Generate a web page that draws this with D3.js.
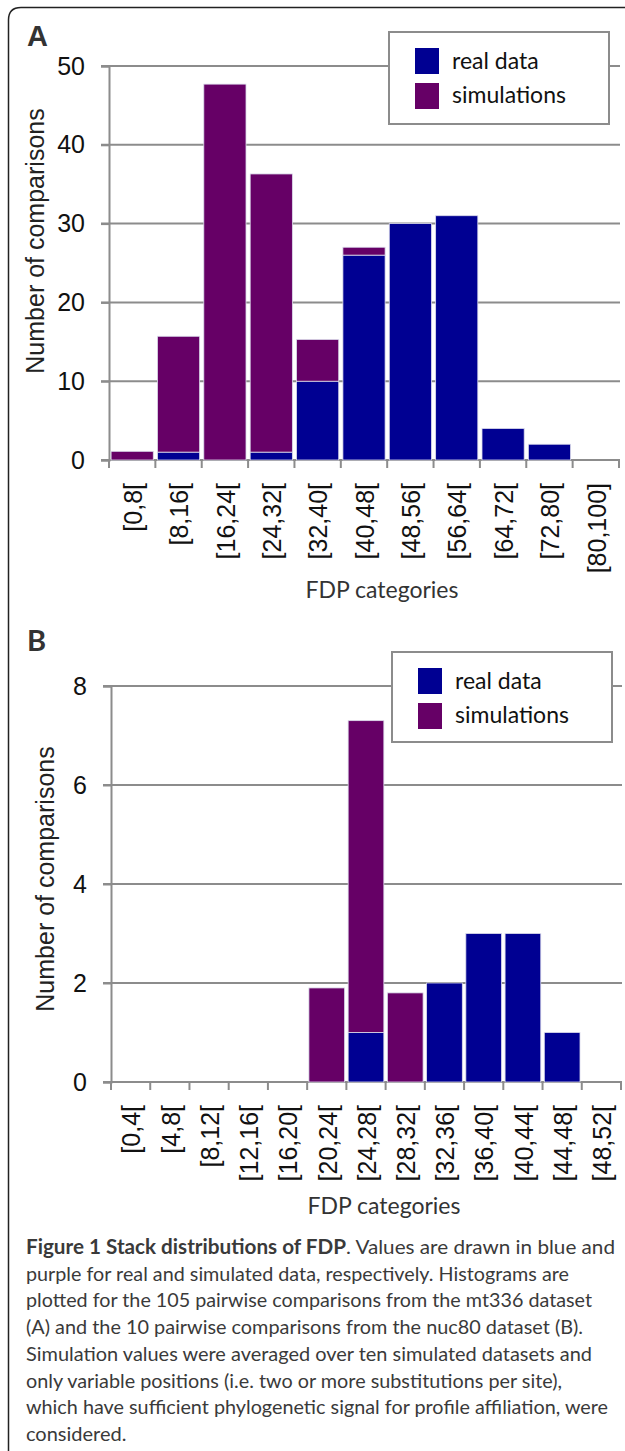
<!DOCTYPE html>
<html>
<head>
<meta charset="utf-8">
<script src="https://cdn.jsdelivr.net/npm/d3@7"></script>
<style>
  html, body { margin: 0; padding: 0; background: #fff; }
  svg { display: block; }
</style>
</head>
<body>
<svg id="chart"></svg>
<script>
// FDP histogram bins and counts
const catsA = ['[0,8[', '[8,16[', '[16,24[', '[24,32[', '[32,40[', '[40,48[', '[48,56[', '[56,64[', '[64,72[', '[72,80[', '[80,100]'];
const realA = [0, 1, 0, 1, 10, 26, 30, 31, 4, 2, 0];
const simA = [1.1, 14.7, 47.7, 35.3, 5.3, 1, 0, 0, 0, 0, 0];
const ticksA = [0, 10, 20, 30, 40, 50];

const catsB = ['[0,4[', '[4,8[', '[8,12[', '[12,16[', '[16,20[', '[20,24[', '[24,28[', '[28,32[', '[32,36[', '[36,40[', '[40,44[', '[44,48[', '[48,52['];
const realB = [0, 0, 0, 0, 0, 0, 1, 0, 2, 3, 3, 1, 0];
const simB = [0, 0, 0, 0, 0, 1.9, 6.3, 1.8, 0, 0, 0, 0, 0];
const ticksB = [0, 2, 4, 6, 8];

const seriesNames = ['real data', 'simulations'];
const captionLines = [
  'purple for real and simulated data, respectively. Histograms are',
  'plotted for the 105 pairwise comparisons from the mt336 dataset',
  '(A) and the 10 pairwise comparisons from the nuc80 dataset (B).',
  'Simulation values were averaged over ten simulated datasets and',
  'only variable positions (i.e. two or more substitutions per site),',
  'which have sufficient phylogenetic signal for profile affiliation, were',
  'considered.'
];
const captionWidths = [543, 566, 557, 566, 536, 582, 0];

const W = 625;
const H = 1451;
const BLUE = '#000092';
const PURPLE = '#660066';
const GRID = '#8c8c8c';
const ARIAL = '"Liberation Sans", Arial, sans-serif';
const SOFT = 'Lato, "Open Sans", sans-serif';

const svg = d3.select('#chart')
  .attr('width', W)
  .attr('height', H)
  .attr('viewBox', `0 0 ${W} ${H}`);

// frame with rounded top-left corner
svg.append('path')
  .attr('d', `M8.5,${H} L8.5,20 Q8.5,7.5 21,7.5 L${W},7.5`)
  .attr('fill', 'none')
  .attr('stroke', '#222')
  .attr('stroke-width', 1.5);

drawPanel({
  letter: 'A', letterY: 46, letterFont: ARIAL,
  cats: catsA, real: realA, sim: simA, ticks: ticksA,
  left: 109, right: 619, top: 66, bottom: 460, yMax: 50,
  titleX: 35, titleY: 241, catTitleY: 598,
  legend: { x: 389, y: 32, w: 220, h: 92 }
});

drawPanel({
  letter: 'B', letterY: 651, letterFont: SOFT,
  cats: catsB, real: realB, sim: simB, ticks: ticksB,
  left: 111, right: 621, top: 686, bottom: 1082, yMax: 8,
  titleX: 45, titleY: 879, catTitleY: 1214,
  legend: { x: 392, y: 652, w: 220, h: 90 }
});

drawCaption(1254);

function drawPanel(cfg) {
  const g = svg.append('g');
  const rows = cfg.cats.map((c, i) => ({ cat: c, real: cfg.real[i], sim: cfg.sim[i] }));
  const stacked = d3.stack().keys(['real', 'sim'])(rows);

  const x = d3.scaleBand()
    .domain(cfg.cats)
    .range([cfg.left, cfg.right])
    .paddingInner(0.09)
    .paddingOuter(0.045);
  const edges = d3.scaleLinear().domain([0, cfg.cats.length]).range([cfg.left, cfg.right]);
  const y = d3.scaleLinear().domain([0, cfg.yMax]).range([cfg.bottom, cfg.top]);

  g.append('text')
    .attr('x', 27)
    .attr('y', cfg.letterY)
    .attr('fill', '#333')
    .attr('font-family', cfg.letterFont)
    .attr('font-weight', 700)
    .attr('font-size', 29)
    .text(cfg.letter);

  // gridlines (start at the tick stubs left of the axis)
  g.append('g')
    .selectAll('line')
    .data(cfg.ticks)
    .join('line')
    .attr('x1', cfg.left - 8)
    .attr('x2', cfg.right + 1)
    .attr('y1', (d) => y(d))
    .attr('y2', (d) => y(d))
    .attr('stroke', GRID)
    .attr('stroke-width', 2);

  // y axis
  const yAxis = g.append('g')
    .attr('transform', `translate(${cfg.left},0)`)
    .call(d3.axisLeft(y).tickValues(cfg.ticks).tickSize(8).tickPadding(16));
  yAxis.select('.domain').attr('stroke', GRID).attr('stroke-width', 2);
  yAxis.selectAll('.tick line').attr('stroke', GRID).attr('stroke-width', 2);
  yAxis.selectAll('.tick text')
    .attr('fill', '#111')
    .attr('font-family', ARIAL)
    .attr('font-size', 25);

  // x tick stubs at bin edges
  g.append('g')
    .selectAll('line')
    .data(d3.range(cfg.cats.length + 1))
    .join('line')
    .attr('x1', (d) => edges(d))
    .attr('x2', (d) => edges(d))
    .attr('y1', cfg.bottom)
    .attr('y2', cfg.bottom + 8)
    .attr('stroke', GRID)
    .attr('stroke-width', 2);

  // stacked bars
  g.append('g')
    .selectAll('g')
    .data(stacked)
    .join('g')
    .attr('fill', (s) => (s.key === 'real' ? BLUE : PURPLE))
    .selectAll('rect')
    .data((s) => s.filter((d) => d[1] > d[0]))
    .join('rect')
    .attr('x', (d) => x(d.data.cat))
    .attr('width', x.bandwidth())
    .attr('y', (d) => y(d[1]))
    .attr('height', (d) => y(d[0]) - y(d[1]))
    .attr('stroke', '#dcdcec')
    .attr('stroke-width', 0.8);

  // rotated category labels
  g.append('g')
    .selectAll('text')
    .data(cfg.cats)
    .join('text')
    .attr('transform', (d) => `translate(${x(d) + x.bandwidth() / 2 + 1},${cfg.bottom + 23}) rotate(-90)`)
    .attr('text-anchor', 'end')
    .attr('dy', '0.35em')
    .attr('fill', '#111')
    .attr('font-family', ARIAL)
    .attr('font-size', 25)
    .text((d) => d);

  g.append('text')
    .attr('transform', `translate(${cfg.titleX},${cfg.titleY}) rotate(-90)`)
    .attr('text-anchor', 'middle')
    .attr('dy', '0.35em')
    .attr('fill', '#222')
    .attr('font-family', ARIAL)
    .attr('font-size', 25)
    .text('Number of comparisons');

  g.append('text')
    .attr('x', (cfg.left + cfg.right) / 2 + 18)
    .attr('y', cfg.catTitleY)
    .attr('text-anchor', 'middle')
    .attr('fill', '#333')
    .attr('font-family', SOFT)
    .attr('font-size', 23)
    .text('FDP categories');

  // legend
  const lg = cfg.legend;
  const leg = g.append('g').attr('transform', `translate(${lg.x},${lg.y})`);
  leg.append('rect')
    .attr('width', lg.w)
    .attr('height', lg.h)
    .attr('fill', '#fff')
    .attr('stroke', '#8c8c8c')
    .attr('stroke-width', 2);
  seriesNames.forEach((name, i) => {
    leg.append('rect')
      .attr('x', 26)
      .attr('y', 16 + i * 35)
      .attr('width', 24)
      .attr('height', 26)
      .attr('fill', i === 0 ? BLUE : PURPLE);
    leg.append('text')
      .attr('x', 63)
      .attr('y', 37 + i * 34)
      .attr('fill', '#111')
      .attr('font-family', SOFT)
      .attr('font-size', 23)
      .text(name);
  });
}

function drawCaption(y0) {
  const cap = svg.append('g')
    .attr('font-family', SOFT)
    .attr('font-size', 20)
    .attr('fill', '#3a3a3a');

  const first = cap.append('text')
    .attr('x', 26)
    .attr('y', y0)
    .attr('textLength', 589)
    .attr('lengthAdjust', 'spacingAndGlyphs');
  first.append('tspan')
    .attr('font-weight', 700)
    .text('Figure 1 Stack distributions of FDP');
  first.append('tspan').text('. Values are drawn in blue and');

  captionLines.forEach((line, i) => {
    const t = cap.append('text')
      .attr('x', 26)
      .attr('y', y0 + (i + 1) * 26.7)
      .text(line);
    if (captionWidths[i]) {
      t.attr('textLength', captionWidths[i]).attr('lengthAdjust', 'spacingAndGlyphs');
    }
  });
}
</script>
</body>
</html>
